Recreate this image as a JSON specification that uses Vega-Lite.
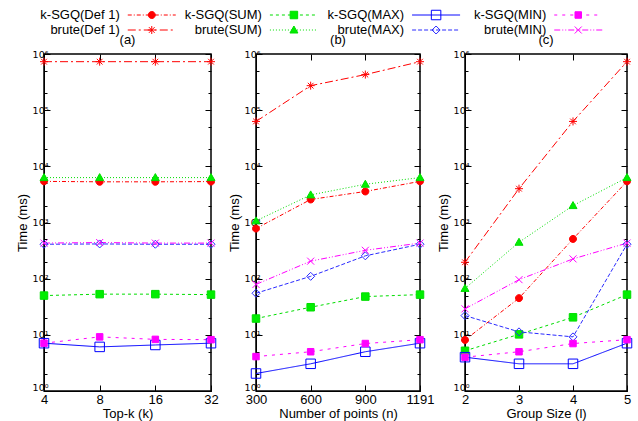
{
  "$schema": "https://vega.github.io/schema/vega-lite/v6.json",
  "background": "white",
  "padding": {"left": 15, "top": 8, "right": 3, "bottom": 0},
  "config": {
    "font": "Liberation Sans",
    "view": {"stroke": "#000000", "strokeWidth": 1.5},
    "axis": {"labelFont": "Liberation Sans", "titleFont": "Liberation Sans", "labelColor": "#000000", "titleColor": "#000000", "domainColor": "#000000", "tickColor": "#000000", "grid": false, "titleFontWeight": "normal", "domainWidth": 1, "tickWidth": 1},
    "title": {"fontSize": 13, "fontWeight": "normal", "offset": 2, "frame": "group", "font": "Liberation Sans", "color": "#000000"}
  },
  "datasets": {
    "legend": [
      {"series": "k-SGQ(Def 1)", "algo": "k-SGQ", "func": "Def 1"},
      {"series": "k-SGQ(SUM)", "algo": "k-SGQ", "func": "SUM"},
      {"series": "k-SGQ(MAX)", "algo": "k-SGQ", "func": "MAX"},
      {"series": "k-SGQ(MIN)", "algo": "k-SGQ", "func": "MIN"},
      {"series": "brute(Def 1)", "algo": "brute", "func": "Def 1"},
      {"series": "brute(SUM)", "algo": "brute", "func": "SUM"},
      {"series": "brute(MAX)", "algo": "brute", "func": "MAX"},
      {"series": "brute(MIN)", "algo": "brute", "func": "MIN"}
    ],
    "main": [
      {"panel": "a", "x": 4, "series": "k-SGQ(Def 1)", "time": 5400},
      {"panel": "a", "x": 8, "series": "k-SGQ(Def 1)", "time": 5300},
      {"panel": "a", "x": 16, "series": "k-SGQ(Def 1)", "time": 5300},
      {"panel": "a", "x": 32, "series": "k-SGQ(Def 1)", "time": 5350},
      {"panel": "a", "x": 4, "series": "brute(Def 1)", "time": 730000},
      {"panel": "a", "x": 8, "series": "brute(Def 1)", "time": 730000},
      {"panel": "a", "x": 16, "series": "brute(Def 1)", "time": 730000},
      {"panel": "a", "x": 32, "series": "brute(Def 1)", "time": 730000},
      {"panel": "a", "x": 4, "series": "k-SGQ(SUM)", "time": 50},
      {"panel": "a", "x": 8, "series": "k-SGQ(SUM)", "time": 53},
      {"panel": "a", "x": 16, "series": "k-SGQ(SUM)", "time": 53},
      {"panel": "a", "x": 32, "series": "k-SGQ(SUM)", "time": 52},
      {"panel": "a", "x": 4, "series": "brute(SUM)", "time": 6300},
      {"panel": "a", "x": 8, "series": "brute(SUM)", "time": 6300},
      {"panel": "a", "x": 16, "series": "brute(SUM)", "time": 6300},
      {"panel": "a", "x": 32, "series": "brute(SUM)", "time": 6300},
      {"panel": "a", "x": 4, "series": "k-SGQ(MAX)", "time": 7.1},
      {"panel": "a", "x": 8, "series": "k-SGQ(MAX)", "time": 6.1},
      {"panel": "a", "x": 16, "series": "k-SGQ(MAX)", "time": 6.6},
      {"panel": "a", "x": 32, "series": "k-SGQ(MAX)", "time": 7.1},
      {"panel": "a", "x": 4, "series": "brute(MAX)", "time": 410},
      {"panel": "a", "x": 8, "series": "brute(MAX)", "time": 415},
      {"panel": "a", "x": 16, "series": "brute(MAX)", "time": 410},
      {"panel": "a", "x": 32, "series": "brute(MAX)", "time": 410},
      {"panel": "a", "x": 4, "series": "k-SGQ(MIN)", "time": 7.1},
      {"panel": "a", "x": 8, "series": "k-SGQ(MIN)", "time": 9.2},
      {"panel": "a", "x": 16, "series": "k-SGQ(MIN)", "time": 8.3},
      {"panel": "a", "x": 32, "series": "k-SGQ(MIN)", "time": 8.2},
      {"panel": "a", "x": 4, "series": "brute(MIN)", "time": 430},
      {"panel": "a", "x": 8, "series": "brute(MIN)", "time": 440},
      {"panel": "a", "x": 16, "series": "brute(MIN)", "time": 430},
      {"panel": "a", "x": 32, "series": "brute(MIN)", "time": 430},
      {"panel": "b", "x": 300, "series": "k-SGQ(Def 1)", "time": 780},
      {"panel": "b", "x": 600, "series": "k-SGQ(Def 1)", "time": 2570},
      {"panel": "b", "x": 900, "series": "k-SGQ(Def 1)", "time": 3570},
      {"panel": "b", "x": 1191, "series": "k-SGQ(Def 1)", "time": 5400},
      {"panel": "b", "x": 300, "series": "brute(Def 1)", "time": 63000},
      {"panel": "b", "x": 600, "series": "brute(Def 1)", "time": 273000},
      {"panel": "b", "x": 900, "series": "brute(Def 1)", "time": 430000},
      {"panel": "b", "x": 1191, "series": "brute(Def 1)", "time": 730000},
      {"panel": "b", "x": 300, "series": "k-SGQ(SUM)", "time": 19.5},
      {"panel": "b", "x": 600, "series": "k-SGQ(SUM)", "time": 31},
      {"panel": "b", "x": 900, "series": "k-SGQ(SUM)", "time": 48},
      {"panel": "b", "x": 1191, "series": "k-SGQ(SUM)", "time": 52},
      {"panel": "b", "x": 300, "series": "brute(SUM)", "time": 1070},
      {"panel": "b", "x": 600, "series": "brute(SUM)", "time": 3100},
      {"panel": "b", "x": 900, "series": "brute(SUM)", "time": 4800},
      {"panel": "b", "x": 1191, "series": "brute(SUM)", "time": 6300},
      {"panel": "b", "x": 300, "series": "k-SGQ(MAX)", "time": 2.05},
      {"panel": "b", "x": 600, "series": "k-SGQ(MAX)", "time": 3.05},
      {"panel": "b", "x": 900, "series": "k-SGQ(MAX)", "time": 5.0},
      {"panel": "b", "x": 1191, "series": "k-SGQ(MAX)", "time": 7.1},
      {"panel": "b", "x": 300, "series": "brute(MAX)", "time": 55},
      {"panel": "b", "x": 600, "series": "brute(MAX)", "time": 110},
      {"panel": "b", "x": 900, "series": "brute(MAX)", "time": 255},
      {"panel": "b", "x": 1191, "series": "brute(MAX)", "time": 410},
      {"panel": "b", "x": 300, "series": "k-SGQ(MIN)", "time": 4.1},
      {"panel": "b", "x": 600, "series": "k-SGQ(MIN)", "time": 5.0},
      {"panel": "b", "x": 900, "series": "k-SGQ(MIN)", "time": 7.0},
      {"panel": "b", "x": 1191, "series": "k-SGQ(MIN)", "time": 8.2},
      {"panel": "b", "x": 300, "series": "brute(MIN)", "time": 79},
      {"panel": "b", "x": 600, "series": "brute(MIN)", "time": 205},
      {"panel": "b", "x": 900, "series": "brute(MIN)", "time": 320},
      {"panel": "b", "x": 1191, "series": "brute(MIN)", "time": 430},
      {"panel": "c", "x": 2, "series": "k-SGQ(Def 1)", "time": 8.1},
      {"panel": "c", "x": 3, "series": "k-SGQ(Def 1)", "time": 45},
      {"panel": "c", "x": 4, "series": "k-SGQ(Def 1)", "time": 510},
      {"panel": "c", "x": 5, "series": "k-SGQ(Def 1)", "time": 5400},
      {"panel": "c", "x": 2, "series": "brute(Def 1)", "time": 196},
      {"panel": "c", "x": 3, "series": "brute(Def 1)", "time": 4000},
      {"panel": "c", "x": 4, "series": "brute(Def 1)", "time": 63000},
      {"panel": "c", "x": 5, "series": "brute(Def 1)", "time": 730000},
      {"panel": "c", "x": 2, "series": "k-SGQ(SUM)", "time": 5.2},
      {"panel": "c", "x": 3, "series": "k-SGQ(SUM)", "time": 10.2},
      {"panel": "c", "x": 4, "series": "k-SGQ(SUM)", "time": 20.5},
      {"panel": "c", "x": 5, "series": "k-SGQ(SUM)", "time": 52},
      {"panel": "c", "x": 2, "series": "brute(SUM)", "time": 67},
      {"panel": "c", "x": 3, "series": "brute(SUM)", "time": 445},
      {"panel": "c", "x": 4, "series": "brute(SUM)", "time": 2000},
      {"panel": "c", "x": 5, "series": "brute(SUM)", "time": 6300},
      {"panel": "c", "x": 2, "series": "k-SGQ(MAX)", "time": 4.0},
      {"panel": "c", "x": 3, "series": "k-SGQ(MAX)", "time": 3.05},
      {"panel": "c", "x": 4, "series": "k-SGQ(MAX)", "time": 3.05},
      {"panel": "c", "x": 5, "series": "k-SGQ(MAX)", "time": 7.1},
      {"panel": "c", "x": 2, "series": "brute(MAX)", "time": 22},
      {"panel": "c", "x": 3, "series": "brute(MAX)", "time": 11.3},
      {"panel": "c", "x": 4, "series": "brute(MAX)", "time": 9.2},
      {"panel": "c", "x": 5, "series": "brute(MAX)", "time": 410},
      {"panel": "c", "x": 2, "series": "k-SGQ(MIN)", "time": 4.0},
      {"panel": "c", "x": 3, "series": "k-SGQ(MIN)", "time": 5.0},
      {"panel": "c", "x": 4, "series": "k-SGQ(MIN)", "time": 7.0},
      {"panel": "c", "x": 5, "series": "k-SGQ(MIN)", "time": 8.2},
      {"panel": "c", "x": 2, "series": "brute(MIN)", "time": 29},
      {"panel": "c", "x": 3, "series": "brute(MIN)", "time": 96},
      {"panel": "c", "x": 4, "series": "brute(MIN)", "time": 225},
      {"panel": "c", "x": 5, "series": "brute(MIN)", "time": 430}
    ]
  },
  "spacing": 24,
  "bounds": "flush",
  "vconcat": [
    {
      "data": {"name": "legend"},
      "width": 580, "height": 15,
      "view": {"stroke": null},
      "encoding": {
        "x": {"field": "func", "type": "ordinal", "scale": {"type": "point", "padding": 0.54, "domain": ["Def 1", "SUM", "MAX", "MIN"]}, "axis": null},
        "y": {"field": "algo", "type": "ordinal", "scale": {"type": "point", "padding": 0, "domain": ["k-SGQ", "brute"]}, "axis": null}
      },
      "layer": [
        {"mark": {"type": "text", "align": "right", "baseline": "middle", "fontSize": 13, "font": "Liberation Sans", "color": "#000000", "dx": -1}, "encoding": {"text": {"field": "series"}}},
        {"mark": {"type": "rule", "strokeWidth": 1, "xOffset": 7, "x2Offset": 55},
         "encoding": {
           "x2": {"field": "func"},
           "color": {"field": "series", "type": "nominal", "scale": {"domain": ["k-SGQ(Def 1)", "k-SGQ(SUM)", "k-SGQ(MAX)", "k-SGQ(MIN)", "brute(Def 1)", "brute(SUM)", "brute(MAX)", "brute(MIN)"], "range": ["#ff0000", "#00dd00", "#0000ff", "#ff00ff", "#ff0000", "#00dd00", "#2a2aff", "#ff00ff"]}, "legend": null},
           "strokeDash": {"field": "series", "type": "nominal", "scale": {"domain": ["k-SGQ(Def 1)", "k-SGQ(SUM)", "k-SGQ(MAX)", "k-SGQ(MIN)", "brute(Def 1)", "brute(SUM)", "brute(MAX)", "brute(MIN)"], "range": [[4,2,1,2],[3,3],[1,0],[3,5],[8,3,2,3],[1,2],[4,2],[6,2,1,2,1,2]]}, "legend": null}
         }},
        {"mark": {"type": "point", "size": 100, "strokeWidth": 1, "opacity": 1, "xOffset": 31},
         "encoding": {
           "color": {"field": "series", "type": "nominal", "legend": null},
           "shape": {"field": "series", "type": "nominal", "scale": {"domain": ["k-SGQ(Def 1)", "k-SGQ(SUM)", "k-SGQ(MAX)", "k-SGQ(MIN)", "brute(Def 1)", "brute(SUM)", "brute(MAX)", "brute(MIN)"], "range": ["M-0.7,0A0.7,0.7 0 1,0 0.7,0A0.7,0.7 0 1,0 -0.7,0Z", "M-0.75,-0.75H0.75V0.75H-0.75Z", "M-0.95,-0.95H0.95V0.95H-0.95Z", "M-0.65,-0.65H0.65V0.65H-0.65Z", "M-0.8,0H0.8M0,-0.8V0.8M-0.57,-0.57L0.57,0.57M-0.57,0.57L0.57,-0.57", "M0,-0.8L0.8,0.6H-0.8Z", "M0,-0.8L0.8,0L0,0.8L-0.8,0Z", "M-0.7,-0.7L0.7,0.7M-0.7,0.7L0.7,-0.7"]}, "legend": null},
           "fill": {"field": "series", "type": "nominal", "scale": {"domain": ["k-SGQ(Def 1)", "k-SGQ(SUM)", "k-SGQ(MAX)", "k-SGQ(MIN)", "brute(Def 1)", "brute(SUM)", "brute(MAX)", "brute(MIN)"], "range": ["#ff0000", "#00ee00", "transparent", "#ff00ff", "transparent", "#00ee00", "transparent", "transparent"]}, "legend": null}
         }}
      ]
    },
    {
      "data": {"name": "main"},
      "spacing": 45,
      "bounds": "flush",
      "hconcat": [
        {
          "width": 167, "height": 337,
          "title": "(a)",
          "transform": [{"filter": "datum.panel == 'a'"}],
          "encoding": {
            "color": {"field": "series", "type": "nominal", "legend": null}
          },
          "layer": [
            {
              "mark": {"type": "line", "strokeWidth": 1},
              "encoding": {
                "x": {"field": "x", "type": "ordinal", "scale": {"type": "point", "padding": 0}, "axis": {"orient": "bottom", "title": "Top-k (k)", "labelAngle": 0, "labelFontSize": 13, "titleFontSize": 13, "tickSize": -6, "labelPadding": 8, "titlePadding": 1}},
                "y": {"field": "time", "type": "quantitative", "scale": {"type": "log", "domain": [1, 1000000]}, "axis": {"orient": "left", "title": "Time (ms)", "titleFontSize": 13, "titlePadding": 3, "labelFont": "DejaVu Sans", "labelFontSize": 9.5, "values": [1, 2, 5, 10, 20, 50, 100, 200, 500, 1000, 2000, 5000, 10000, 20000, 50000, 100000, 200000, 500000, 1000000], "labelExpr": "abs(log(datum.value)/LN10 - round(log(datum.value)/LN10)) < 0.01 ? '10' + ['⁰','¹','²','³','⁴','⁵','⁶'][round(log(datum.value)/LN10)] : ''", "labelOffset": {"condition": {"test": "datum.value == 1", "value": -4}, "value": 0}, "tickSize": {"condition": {"test": "abs(log(datum.value)/LN10 - round(log(datum.value)/LN10)) < 0.01", "value": -6}, "value": -3}, "labelPadding": 2}},
                "strokeDash": {"field": "series", "type": "nominal", "legend": null}
              }
            },
            {
              "mark": {"type": "point", "size": 100, "strokeWidth": 1, "opacity": 1},
              "encoding": {
                "x": {"field": "x", "type": "ordinal", "scale": {"type": "point", "padding": 0}, "axis": {"orient": "top", "title": null, "labels": false, "tickSize": -6, "domain": false}},
                "y": {"field": "time", "type": "quantitative", "scale": {"type": "log", "domain": [1, 1000000]}, "axis": {"orient": "right", "title": null, "labels": false, "domain": false, "values": [1, 2, 5, 10, 20, 50, 100, 200, 500, 1000, 2000, 5000, 10000, 20000, 50000, 100000, 200000, 500000, 1000000], "tickSize": {"condition": {"test": "abs(log(datum.value)/LN10 - round(log(datum.value)/LN10)) < 0.01", "value": -6}, "value": -3}}},
                "shape": {"field": "series", "type": "nominal", "legend": null},
                "fill": {"field": "series", "type": "nominal", "legend": null}
              }
            }
          ],
          "resolve": {"axis": {"x": "independent", "y": "independent"}}
        },
        {
          "width": 164, "height": 337,
          "title": "(b)",
          "transform": [{"filter": "datum.panel == 'b'"}],
          "encoding": {
            "color": {"field": "series", "type": "nominal", "legend": null}
          },
          "layer": [
            {
              "mark": {"type": "line", "strokeWidth": 1},
              "encoding": {
                "x": {"field": "x", "type": "ordinal", "scale": {"type": "point", "padding": 0}, "axis": {"orient": "bottom", "title": "Number of points (n)", "labelAngle": 0, "labelFontSize": 13, "titleFontSize": 13, "tickSize": -6, "labelPadding": 8, "titlePadding": 1}},
                "y": {"field": "time", "type": "quantitative", "scale": {"type": "log", "domain": [1, 1000000]}, "axis": {"orient": "left", "title": "Time (ms)", "titleFontSize": 13, "titlePadding": 3, "labelFont": "DejaVu Sans", "labelFontSize": 9.5, "values": [1, 2, 5, 10, 20, 50, 100, 200, 500, 1000, 2000, 5000, 10000, 20000, 50000, 100000, 200000, 500000, 1000000], "labelExpr": "abs(log(datum.value)/LN10 - round(log(datum.value)/LN10)) < 0.01 ? '10' + ['⁰','¹','²','³','⁴','⁵','⁶'][round(log(datum.value)/LN10)] : ''", "labelOffset": {"condition": {"test": "datum.value == 1", "value": -4}, "value": 0}, "tickSize": {"condition": {"test": "abs(log(datum.value)/LN10 - round(log(datum.value)/LN10)) < 0.01", "value": -6}, "value": -3}, "labelPadding": 2}},
                "strokeDash": {"field": "series", "type": "nominal", "legend": null}
              }
            },
            {
              "mark": {"type": "point", "size": 100, "strokeWidth": 1, "opacity": 1},
              "encoding": {
                "x": {"field": "x", "type": "ordinal", "scale": {"type": "point", "padding": 0}, "axis": {"orient": "top", "title": null, "labels": false, "tickSize": -6, "domain": false}},
                "y": {"field": "time", "type": "quantitative", "scale": {"type": "log", "domain": [1, 1000000]}, "axis": {"orient": "right", "title": null, "labels": false, "domain": false, "values": [1, 2, 5, 10, 20, 50, 100, 200, 500, 1000, 2000, 5000, 10000, 20000, 50000, 100000, 200000, 500000, 1000000], "tickSize": {"condition": {"test": "abs(log(datum.value)/LN10 - round(log(datum.value)/LN10)) < 0.01", "value": -6}, "value": -3}}},
                "shape": {"field": "series", "type": "nominal", "legend": null},
                "fill": {"field": "series", "type": "nominal", "legend": null}
              }
            }
          ],
          "resolve": {"axis": {"x": "independent", "y": "independent"}}
        },
        {
          "width": 162, "height": 337,
          "title": "(c)",
          "transform": [{"filter": "datum.panel == 'c'"}],
          "encoding": {
            "color": {"field": "series", "type": "nominal", "legend": null}
          },
          "layer": [
            {
              "mark": {"type": "line", "strokeWidth": 1},
              "encoding": {
                "x": {"field": "x", "type": "ordinal", "scale": {"type": "point", "padding": 0}, "axis": {"orient": "bottom", "title": "Group Size (l)", "labelAngle": 0, "labelFontSize": 13, "titleFontSize": 13, "tickSize": -6, "labelPadding": 8, "titlePadding": 1}},
                "y": {"field": "time", "type": "quantitative", "scale": {"type": "log", "domain": [1, 1000000]}, "axis": {"orient": "left", "title": "Time (ms)", "titleFontSize": 13, "titlePadding": 3, "labelFont": "DejaVu Sans", "labelFontSize": 9.5, "values": [1, 2, 5, 10, 20, 50, 100, 200, 500, 1000, 2000, 5000, 10000, 20000, 50000, 100000, 200000, 500000, 1000000], "labelExpr": "abs(log(datum.value)/LN10 - round(log(datum.value)/LN10)) < 0.01 ? '10' + ['⁰','¹','²','³','⁴','⁵','⁶'][round(log(datum.value)/LN10)] : ''", "labelOffset": {"condition": {"test": "datum.value == 1", "value": -4}, "value": 0}, "tickSize": {"condition": {"test": "abs(log(datum.value)/LN10 - round(log(datum.value)/LN10)) < 0.01", "value": -6}, "value": -3}, "labelPadding": 2}},
                "strokeDash": {"field": "series", "type": "nominal", "legend": null}
              }
            },
            {
              "mark": {"type": "point", "size": 100, "strokeWidth": 1, "opacity": 1},
              "encoding": {
                "x": {"field": "x", "type": "ordinal", "scale": {"type": "point", "padding": 0}, "axis": {"orient": "top", "title": null, "labels": false, "tickSize": -6, "domain": false}},
                "y": {"field": "time", "type": "quantitative", "scale": {"type": "log", "domain": [1, 1000000]}, "axis": {"orient": "right", "title": null, "labels": false, "domain": false, "values": [1, 2, 5, 10, 20, 50, 100, 200, 500, 1000, 2000, 5000, 10000, 20000, 50000, 100000, 200000, 500000, 1000000], "tickSize": {"condition": {"test": "abs(log(datum.value)/LN10 - round(log(datum.value)/LN10)) < 0.01", "value": -6}, "value": -3}}},
                "shape": {"field": "series", "type": "nominal", "legend": null},
                "fill": {"field": "series", "type": "nominal", "legend": null}
              }
            }
          ],
          "resolve": {"axis": {"x": "independent", "y": "independent"}}
        }
      ]
    }
  ]
}
